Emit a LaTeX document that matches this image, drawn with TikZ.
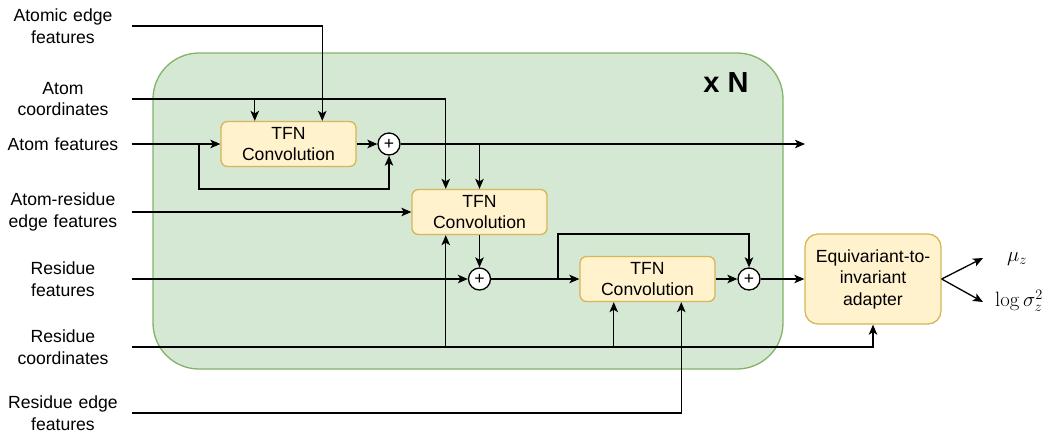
\documentclass[tikz,border=0pt]{standalone}
\usepackage[no-math]{fontspec}
\setmainfont{Liberation Sans}
\usetikzlibrary{positioning, arrows.meta, calc}
\definecolor{cG}{HTML}{D5E8D4}
\definecolor{cGd}{HTML}{82B366}
\definecolor{cY}{HTML}{FFF2CC}
\definecolor{cYd}{HTML}{D6B656}

\begin{document}
\begin{tikzpicture}[x=1pt, y=-1pt, line width=1.3pt,
    >={Stealth[length=10pt, width=8.5pt, inset=2.5pt]},
    every node/.style={font=\fontsize{17.6}{21.5}\selectfont},
    inlabel/.style={text width=126pt, align=center, inner xsep=5pt, inner ysep=0pt},
    conv/.style={draw=cYd, fill=cY, rounded corners=6.5pt, minimum width=135pt, minimum height=45pt, align=center, inner sep=0pt},
    adapter/.style={draw=cYd, fill=cY, rounded corners=13pt, minimum width=136pt, minimum height=90pt, align=center, inner sep=0pt},
    sumnode/.style={circle, draw, fill=white, minimum size=22pt, inner sep=0pt},
    layer/.style={draw=cGd, fill=cG, rounded corners=46pt, minimum width=630pt, minimum height=316pt},
    outlabel/.style={font=\fontsize{20.74}{24}\selectfont}]
    \useasboundingbox (0,0) rectangle (1046,432);

    % Repeated block
    \node[layer] (blk) at (468,211) {};
    \node[font=\fontsize{29}{29}\selectfont\bfseries] (rep) at (726,83) {x N};

    % Inputs
    \node[inlabel] (aef) at (63,26)  {Atomic edge\\features};
    \node[inlabel] (ac)  at (63,99)  {Atom\\coordinates};
    \node[inlabel] (af)  at (63,144) {Atom features};
    \node[inlabel] (are) at (63,212) {Atom-residue\\edge features};
    \node[inlabel] (rf)  at (63,279) {Residue\\features};
    \node[inlabel] (rc)  at (63,347) {Residue\\coordinates};
    \node[inlabel] (ref) at (63,413) {Residue edge\\features};

    % Convolutions and sums
    \node[conv] (tfn1) at (288.5,144) {TFN\\Convolution};
    \node[sumnode] (sum1) at (389,144) {+};
    \node[conv] (tfn2) at (479.5,212) {TFN\\Convolution};
    \node[sumnode] (sum2) at (479.5,279) {+};
    \node[conv] (tfn3) at (647.5,279) {TFN\\Convolution};
    \node[sumnode] (sum3) at (749,279) {+};
    \node[adapter] (eti) at (873,279) {Equivariant-to-\\invariant\\adapter};

    % Outputs
    \node[outlabel] (mu)   at (1017,259) {$\mu_z$};
    \node[outlabel] (lsig) at (1019,301) {$\log\sigma_z^2$};

    % Helper points
    \coordinate (t1a) at ([xshift=-33.75pt]tfn1.north);
    \coordinate (t1b) at ([xshift=33.75pt]tfn1.north);
    \coordinate (t2a) at ([xshift=-33.75pt]tfn2.north);
    \coordinate (t2c) at ([xshift=-33.75pt]tfn2.south);
    \coordinate (t3a) at ([xshift=-33.75pt]tfn3.south);
    \coordinate (t3b) at ([xshift=33.75pt]tfn3.south);
    \coordinate (skip1) at (199,144);
    \coordinate (skip2) at (558,279);
    \coordinate (out1) at (805,144);
    \coordinate (mu0) at (983,258);
    \coordinate (ls0) at (983,302);

    % Atom stream
    \draw[->] (aef.east) -| (t1b);
    \draw[->] (ac.east) -| (t2a);
    \draw[->] (t1a |- ac.east) -- (t1a);
    \draw[->] (af.east) -- (tfn1.west);
    \draw[->] (skip1) -- ++(0,45) -| (sum1.south);
    \draw[->] (tfn1) -- (sum1);
    \draw[->] (sum1) -- (out1);
    \draw[->] (sum1.east -| tfn2.north) -- (tfn2.north);
    \draw[->] (are.east) -- (tfn2.west);

    % Residue stream
    \draw[->] (tfn2) -- (sum2);
    \draw[->] (rf.east) -- (sum2.west);
    \draw[->] (sum2) -- (tfn3);
    \draw[->] (skip2) -- ++(0,-45) -| (sum3.north);
    \draw[->] (tfn3) -- (sum3);
    \draw[->] (sum3) -- (eti);
    \draw[->] (rc.east) -| (eti.south);
    \draw[->] (t2c |- rc.east) -- (t2c);
    \draw[->] (t3a |- rc.east) -- (t3a);
    \draw[->] (ref.east) -| (t3b);
    \draw[->] (eti.east) -- (mu0);
    \draw[->] (eti.east) -- (ls0);
\end{tikzpicture}
\end{document}
